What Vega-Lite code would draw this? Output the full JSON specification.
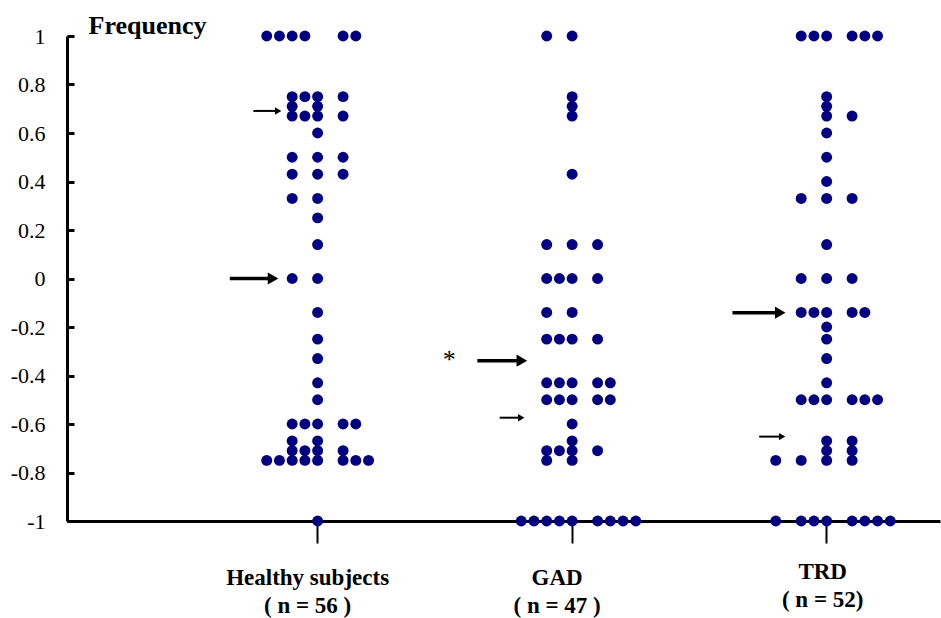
{
  "$schema": "https://vega.github.io/schema/vega-lite/v6.json",
  "width": 873,
  "height": 485,
  "autosize": "none",
  "padding": {"left": 67, "top": 36, "right": 1, "bottom": 97},
  "background": "white",
  "config": {"view": {"stroke": null}, "axis": {"grid": false}},
  "datasets": {
    "dots": [
      {"group": "Healthy subjects", "col": -4, "value": 1}, {"group": "Healthy subjects", "col": -3, "value": 1}, {"group": "Healthy subjects", "col": -2, "value": 1}, {"group": "Healthy subjects", "col": -1, "value": 1}, {"group": "Healthy subjects", "col": 2, "value": 1}, {"group": "Healthy subjects", "col": 3, "value": 1},
      {"group": "Healthy subjects", "col": -2, "value": 0.75}, {"group": "Healthy subjects", "col": -1, "value": 0.75}, {"group": "Healthy subjects", "col": 0, "value": 0.75}, {"group": "Healthy subjects", "col": 2, "value": 0.75},
      {"group": "Healthy subjects", "col": -2, "value": 0.71}, {"group": "Healthy subjects", "col": 0, "value": 0.71},
      {"group": "Healthy subjects", "col": -2, "value": 0.67}, {"group": "Healthy subjects", "col": -1, "value": 0.67}, {"group": "Healthy subjects", "col": 0, "value": 0.67}, {"group": "Healthy subjects", "col": 2, "value": 0.67},
      {"group": "Healthy subjects", "col": 0, "value": 0.6},
      {"group": "Healthy subjects", "col": -2, "value": 0.5}, {"group": "Healthy subjects", "col": 0, "value": 0.5}, {"group": "Healthy subjects", "col": 2, "value": 0.5},
      {"group": "Healthy subjects", "col": -2, "value": 0.43}, {"group": "Healthy subjects", "col": 0, "value": 0.43}, {"group": "Healthy subjects", "col": 2, "value": 0.43},
      {"group": "Healthy subjects", "col": -2, "value": 0.33}, {"group": "Healthy subjects", "col": 0, "value": 0.33},
      {"group": "Healthy subjects", "col": 0, "value": 0.25},
      {"group": "Healthy subjects", "col": 0, "value": 0.14},
      {"group": "Healthy subjects", "col": -2, "value": 0}, {"group": "Healthy subjects", "col": 0, "value": 0},
      {"group": "Healthy subjects", "col": 0, "value": -0.14},
      {"group": "Healthy subjects", "col": 0, "value": -0.25},
      {"group": "Healthy subjects", "col": 0, "value": -0.33},
      {"group": "Healthy subjects", "col": 0, "value": -0.43},
      {"group": "Healthy subjects", "col": 0, "value": -0.5},
      {"group": "Healthy subjects", "col": -2, "value": -0.6}, {"group": "Healthy subjects", "col": -1, "value": -0.6}, {"group": "Healthy subjects", "col": 0, "value": -0.6}, {"group": "Healthy subjects", "col": 2, "value": -0.6}, {"group": "Healthy subjects", "col": 3, "value": -0.6},
      {"group": "Healthy subjects", "col": -2, "value": -0.67}, {"group": "Healthy subjects", "col": 0, "value": -0.67},
      {"group": "Healthy subjects", "col": -2, "value": -0.71}, {"group": "Healthy subjects", "col": -1, "value": -0.71}, {"group": "Healthy subjects", "col": 0, "value": -0.71}, {"group": "Healthy subjects", "col": 2, "value": -0.71},
      {"group": "Healthy subjects", "col": -4, "value": -0.75}, {"group": "Healthy subjects", "col": -3, "value": -0.75}, {"group": "Healthy subjects", "col": -2, "value": -0.75}, {"group": "Healthy subjects", "col": -1, "value": -0.75}, {"group": "Healthy subjects", "col": 0, "value": -0.75}, {"group": "Healthy subjects", "col": 2, "value": -0.75}, {"group": "Healthy subjects", "col": 3, "value": -0.75}, {"group": "Healthy subjects", "col": 4, "value": -0.75},
      {"group": "Healthy subjects", "col": 0, "value": -1},

      {"group": "GAD", "col": -2, "value": 1}, {"group": "GAD", "col": 0, "value": 1},
      {"group": "GAD", "col": 0, "value": 0.75},
      {"group": "GAD", "col": 0, "value": 0.71},
      {"group": "GAD", "col": 0, "value": 0.67},
      {"group": "GAD", "col": 0, "value": 0.43},
      {"group": "GAD", "col": -2, "value": 0.14}, {"group": "GAD", "col": 0, "value": 0.14}, {"group": "GAD", "col": 2, "value": 0.14},
      {"group": "GAD", "col": -2, "value": 0}, {"group": "GAD", "col": -1, "value": 0}, {"group": "GAD", "col": 0, "value": 0}, {"group": "GAD", "col": 2, "value": 0},
      {"group": "GAD", "col": -2, "value": -0.14}, {"group": "GAD", "col": 0, "value": -0.14},
      {"group": "GAD", "col": -2, "value": -0.25}, {"group": "GAD", "col": -1, "value": -0.25}, {"group": "GAD", "col": 0, "value": -0.25}, {"group": "GAD", "col": 2, "value": -0.25},
      {"group": "GAD", "col": -2, "value": -0.43}, {"group": "GAD", "col": -1, "value": -0.43}, {"group": "GAD", "col": 0, "value": -0.43}, {"group": "GAD", "col": 2, "value": -0.43}, {"group": "GAD", "col": 3, "value": -0.43},
      {"group": "GAD", "col": -2, "value": -0.5}, {"group": "GAD", "col": -1, "value": -0.5}, {"group": "GAD", "col": 0, "value": -0.5}, {"group": "GAD", "col": 2, "value": -0.5}, {"group": "GAD", "col": 3, "value": -0.5},
      {"group": "GAD", "col": 0, "value": -0.6},
      {"group": "GAD", "col": 0, "value": -0.67},
      {"group": "GAD", "col": -2, "value": -0.71}, {"group": "GAD", "col": -1, "value": -0.71}, {"group": "GAD", "col": 0, "value": -0.71}, {"group": "GAD", "col": 2, "value": -0.71},
      {"group": "GAD", "col": -2, "value": -0.75}, {"group": "GAD", "col": 0, "value": -0.75},
      {"group": "GAD", "col": -4, "value": -1}, {"group": "GAD", "col": -3, "value": -1}, {"group": "GAD", "col": -2, "value": -1}, {"group": "GAD", "col": -1, "value": -1}, {"group": "GAD", "col": 0, "value": -1}, {"group": "GAD", "col": 2, "value": -1}, {"group": "GAD", "col": 3, "value": -1}, {"group": "GAD", "col": 4, "value": -1}, {"group": "GAD", "col": 5, "value": -1},

      {"group": "TRD", "col": -2, "value": 1}, {"group": "TRD", "col": -1, "value": 1}, {"group": "TRD", "col": 0, "value": 1}, {"group": "TRD", "col": 2, "value": 1}, {"group": "TRD", "col": 3, "value": 1}, {"group": "TRD", "col": 4, "value": 1},
      {"group": "TRD", "col": 0, "value": 0.75},
      {"group": "TRD", "col": 0, "value": 0.71},
      {"group": "TRD", "col": 0, "value": 0.67}, {"group": "TRD", "col": 2, "value": 0.67},
      {"group": "TRD", "col": 0, "value": 0.6},
      {"group": "TRD", "col": 0, "value": 0.5},
      {"group": "TRD", "col": 0, "value": 0.4},
      {"group": "TRD", "col": -2, "value": 0.33}, {"group": "TRD", "col": 0, "value": 0.33}, {"group": "TRD", "col": 2, "value": 0.33},
      {"group": "TRD", "col": 0, "value": 0.14},
      {"group": "TRD", "col": -2, "value": 0}, {"group": "TRD", "col": 0, "value": 0}, {"group": "TRD", "col": 2, "value": 0},
      {"group": "TRD", "col": -2, "value": -0.14}, {"group": "TRD", "col": -1, "value": -0.14}, {"group": "TRD", "col": 0, "value": -0.14}, {"group": "TRD", "col": 2, "value": -0.14}, {"group": "TRD", "col": 3, "value": -0.14},
      {"group": "TRD", "col": 0, "value": -0.2},
      {"group": "TRD", "col": 0, "value": -0.25},
      {"group": "TRD", "col": 0, "value": -0.33},
      {"group": "TRD", "col": 0, "value": -0.43},
      {"group": "TRD", "col": -2, "value": -0.5}, {"group": "TRD", "col": -1, "value": -0.5}, {"group": "TRD", "col": 0, "value": -0.5}, {"group": "TRD", "col": 2, "value": -0.5}, {"group": "TRD", "col": 3, "value": -0.5}, {"group": "TRD", "col": 4, "value": -0.5},
      {"group": "TRD", "col": 0, "value": -0.67}, {"group": "TRD", "col": 2, "value": -0.67},
      {"group": "TRD", "col": 0, "value": -0.71}, {"group": "TRD", "col": 2, "value": -0.71},
      {"group": "TRD", "col": -4, "value": -0.75}, {"group": "TRD", "col": -2, "value": -0.75}, {"group": "TRD", "col": 0, "value": -0.75}, {"group": "TRD", "col": 2, "value": -0.75},
      {"group": "TRD", "col": -4, "value": -1}, {"group": "TRD", "col": -2, "value": -1}, {"group": "TRD", "col": -1, "value": -1}, {"group": "TRD", "col": 0, "value": -1}, {"group": "TRD", "col": 2, "value": -1}, {"group": "TRD", "col": 3, "value": -1}, {"group": "TRD", "col": 4, "value": -1}, {"group": "TRD", "col": 5, "value": -1}
    ],
    "arrows": [
      {"arrow": "h1", "kind": "major", "group": "Healthy subjects", "col": -6.9, "value": 0, "end": "tail"},
      {"arrow": "h1", "kind": "major", "group": "Healthy subjects", "col": -3.5, "value": 0, "end": "head"},
      {"arrow": "g1", "kind": "major", "group": "GAD", "col": -7.45, "value": -0.339, "end": "tail"},
      {"arrow": "g1", "kind": "major", "group": "GAD", "col": -3.95, "value": -0.339, "end": "head"},
      {"arrow": "t1", "kind": "major", "group": "TRD", "col": -7.4, "value": -0.141, "end": "tail"},
      {"arrow": "t1", "kind": "major", "group": "TRD", "col": -3.65, "value": -0.141, "end": "head"},
      {"arrow": "h2", "kind": "minor", "group": "Healthy subjects", "col": -5.05, "value": 0.691, "end": "tail"},
      {"arrow": "h2", "kind": "minor", "group": "Healthy subjects", "col": -3.1, "value": 0.691, "end": "head"},
      {"arrow": "g2", "kind": "minor", "group": "GAD", "col": -5.7, "value": -0.574, "end": "tail"},
      {"arrow": "g2", "kind": "minor", "group": "GAD", "col": -4.0, "value": -0.574, "end": "head"},
      {"arrow": "t2", "kind": "minor", "group": "TRD", "col": -5.3, "value": -0.652, "end": "tail"},
      {"arrow": "t2", "kind": "minor", "group": "TRD", "col": -3.5, "value": -0.652, "end": "head"}
    ],
    "notes": [
      {"group": "GAD", "col": -9.65, "value": -0.335, "text": "*"}
    ]
  },
  "layer": [
    {
      "mark": {"type": "rule", "color": "black", "strokeWidth": 3},
      "encoding": {"y": {"datum": 0, "type": "quantitative"}}
    },
    {
      "data": {"name": "dots"},
      "mark": {"type": "circle", "size": 120, "color": "#000080", "opacity": 1},
      "encoding": {
        "x": {
          "field": "group", "type": "nominal",
          "sort": ["Healthy subjects", "GAD", "TRD"],
          "scale": {"paddingInner": 0.5, "paddingOuter": 0.465, "align": 0.79},
          "axis": {
            "title": null,
            "domainColor": "black", "domainWidth": 3,
            "tickColor": "black", "tickWidth": 2, "tickSize": 22,
            "labelAngle": 0,
            "labelFont": "Liberation Serif", "labelFontWeight": "bold", "labelFontSize": 23, "labelColor": "black",
            "labelPadding": {"condition": {"test": "datum.value == 'TRD'", "value": 17}, "value": 23},
            "labelOffset": {"condition": [{"test": "datum.value == 'GAD'", "value": -15}, {"test": "datum.value == 'Healthy subjects'", "value": -10}], "value": -4},
            "labelLineHeight": 28,
            "labelExpr": "datum.label == 'Healthy subjects' ? ['Healthy subjects', '( n = 56 )'] : datum.label == 'GAD' ? ['GAD', '( n = 47 )'] : ['TRD', '( n = 52)']"
          }
        },
        "xOffset": {"field": "col", "type": "quantitative", "scale": {"domain": [-5, 5]}},
        "y": {
          "field": "value", "type": "quantitative",
          "scale": {"domain": [-1, 1], "nice": false, "zero": false},
          "axis": {
            "values": [-1, -0.8, -0.6, -0.4, -0.2, 0, 0.2, 0.4, 0.6, 0.8, 1],
            "labelExpr": "'' + datum.value",
            "domainColor": "black", "domainWidth": 3,
            "tickColor": "black", "tickWidth": 3, "tickSize": -7,
            "labelFont": "Liberation Serif", "labelFontSize": 22, "labelColor": "black",
            "labelPadding": 29,
            "title": "Frequency",
            "titleAngle": 0, "titleAlign": "left", "titleBaseline": "alphabetic",
            "titleX": 21, "titleY": -3,
            "titleFont": "Liberation Serif", "titleFontWeight": "bold", "titleFontSize": 26, "titleColor": "black"
          }
        }
      }
    },
    {
      "data": {"name": "arrows"},
      "transform": [{"filter": "datum.kind == 'major'"}],
      "mark": {"type": "line", "color": "black", "strokeWidth": 3.5},
      "encoding": {
        "x": {"field": "group", "type": "nominal", "sort": ["Healthy subjects", "GAD", "TRD"]},
        "xOffset": {"field": "col", "type": "quantitative"},
        "y": {"field": "value", "type": "quantitative"},
        "detail": {"field": "arrow"},
        "order": {"field": "col"}
      }
    },
    {
      "data": {"name": "arrows"},
      "transform": [{"filter": "datum.kind == 'minor'"}],
      "mark": {"type": "line", "color": "black", "strokeWidth": 2},
      "encoding": {
        "x": {"field": "group", "type": "nominal", "sort": ["Healthy subjects", "GAD", "TRD"]},
        "xOffset": {"field": "col", "type": "quantitative"},
        "y": {"field": "value", "type": "quantitative"},
        "detail": {"field": "arrow"},
        "order": {"field": "col"}
      }
    },
    {
      "data": {"name": "arrows"},
      "transform": [{"filter": "datum.kind == 'major' && datum.end == 'head'"}],
      "mark": {"type": "point", "shape": "triangle-right", "filled": true, "color": "black", "opacity": 1, "size": 150},
      "encoding": {
        "x": {"field": "group", "type": "nominal", "sort": ["Healthy subjects", "GAD", "TRD"]},
        "xOffset": {"field": "col", "type": "quantitative"},
        "y": {"field": "value", "type": "quantitative"}
      }
    },
    {
      "data": {"name": "arrows"},
      "transform": [{"filter": "datum.kind == 'minor' && datum.end == 'head'"}],
      "mark": {"type": "point", "shape": "triangle-right", "filled": true, "color": "black", "opacity": 1, "size": 55},
      "encoding": {
        "x": {"field": "group", "type": "nominal", "sort": ["Healthy subjects", "GAD", "TRD"]},
        "xOffset": {"field": "col", "type": "quantitative"},
        "y": {"field": "value", "type": "quantitative"}
      }
    },
    {
      "data": {"name": "notes"},
      "mark": {"type": "text", "font": "Liberation Serif", "fontSize": 26, "color": "black", "baseline": "middle", "align": "center"},
      "encoding": {
        "x": {"field": "group", "type": "nominal", "sort": ["Healthy subjects", "GAD", "TRD"]},
        "xOffset": {"field": "col", "type": "quantitative"},
        "y": {"field": "value", "type": "quantitative"},
        "text": {"field": "text"}
      }
    }
  ]
}
